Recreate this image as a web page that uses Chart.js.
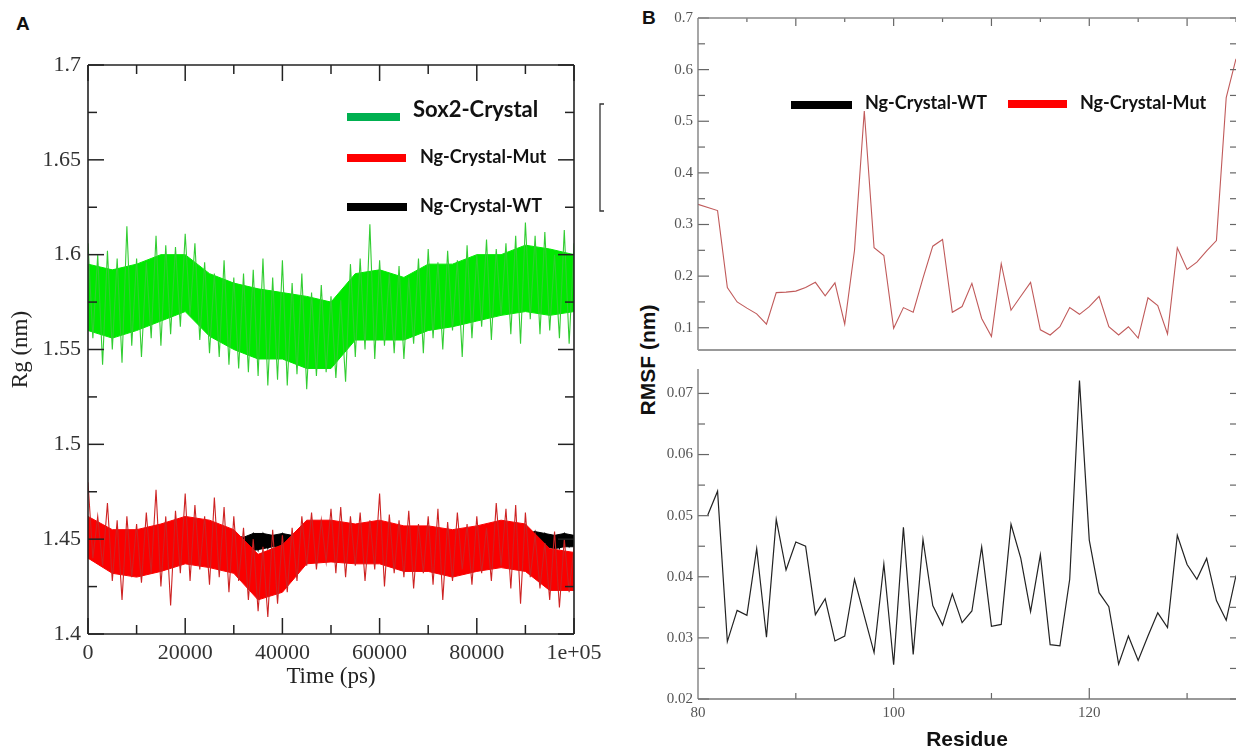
<!DOCTYPE html>
<html>
<head>
<meta charset="utf-8">
<script src="https://cdn.jsdelivr.net/npm/chart.js@4.4.1/dist/chart.umd.min.js"></script>
<style>
  body { margin: 0; width: 1236px; height: 753px; overflow: hidden; position: relative; background: #fff; }
  canvas { position: absolute; }
  #cA { left: 0; top: 0; }
  #cB1 { left: 640px; top: 0; }
  #cB2 { left: 640px; top: 355px; }
  .lbl { position: absolute; font-family: 'Liberation Sans', Arial, sans-serif; font-weight: bold; color: #111; white-space: nowrap; }
</style>
</head>
<body>
<div class="lbl" style="left:16px;top:13px;font-size:19px">A</div>
<div class="lbl" style="left:642px;top:7px;font-size:19px">B</div>
<div class="lbl" style="left:648px;top:360px;font-size:21px;transform:translate(-50%,-50%) rotate(-90deg)">RMSF (nm)</div>
<canvas id="cA" width="640" height="700"></canvas>
<canvas id="cB1" width="596" height="364"></canvas>
<canvas id="cB2" width="596" height="398"></canvas>
<script>
// ---- panel A : Rg vs time ----
// spikes: peaks (even times) and troughs (odd times); core: edges of the dense part of each trace
var tEven = Array.from({length: 51}, (_, i) => i * 2000);
var tOdd = Array.from({length: 50}, (_, i) => i * 2000 + 1000);
var tCore = Array.from({length: 21}, (_, i) => i * 5000);

var greenHigh = [1.606,1.600,1.602,1.598,1.615,1.598,1.596,1.610,1.605,1.604,
  1.611,1.606,1.596,1.590,1.597,1.588,1.590,1.592,1.598,1.588,
  1.597,1.585,1.590,1.580,1.584,1.578,1.576,1.595,1.598,1.616,
  1.597,1.590,1.594,1.588,1.598,1.603,1.596,1.602,1.597,1.605,
  1.600,1.608,1.603,1.606,1.610,1.617,1.610,1.612,1.600,1.613,1.606];
var greenLow = [1.556,1.542,1.550,1.543,1.552,1.546,1.556,1.552,1.558,1.562,
  1.568,1.555,1.548,1.546,1.542,1.540,1.538,1.536,1.531,1.534,
  1.531,1.537,1.529,1.536,1.538,1.535,1.533,1.546,1.550,1.545,
  1.552,1.548,1.545,1.553,1.548,1.556,1.550,1.560,1.546,1.556,
  1.562,1.555,1.568,1.558,1.553,1.566,1.558,1.560,1.556,1.553];
var greenCoreHigh = [1.595,1.592,1.595,1.600,1.600,1.590,1.585,1.582,1.580,1.578,1.575,
  1.590,1.592,1.588,1.595,1.595,1.600,1.600,1.605,1.603,1.600];
var greenCoreLow = [1.560,1.556,1.560,1.565,1.570,1.557,1.550,1.545,1.545,1.540,1.540,
  1.555,1.555,1.555,1.560,1.562,1.565,1.568,1.570,1.568,1.570];

var redHigh = [1.480,1.462,1.469,1.460,1.462,1.458,1.464,1.476,1.462,1.465,
  1.474,1.468,1.462,1.472,1.467,1.462,1.456,1.450,1.446,1.455,
  1.452,1.456,1.462,1.464,1.460,1.466,1.467,1.462,1.464,1.460,
  1.474,1.463,1.460,1.465,1.458,1.462,1.466,1.459,1.464,1.458,
  1.462,1.456,1.469,1.466,1.468,1.464,1.452,1.448,1.454,1.450,1.446];
var redLow = [1.440,1.436,1.428,1.418,1.430,1.427,1.432,1.425,1.415,1.432,
  1.428,1.434,1.426,1.430,1.422,1.428,1.418,1.412,1.409,1.416,
  1.422,1.428,1.436,1.434,1.438,1.432,1.430,1.436,1.428,1.434,
  1.425,1.432,1.430,1.424,1.432,1.426,1.418,1.428,1.434,1.426,
  1.432,1.428,1.436,1.424,1.416,1.430,1.424,1.418,1.414,1.422];
var redCoreHigh = [1.462,1.455,1.455,1.458,1.462,1.460,1.455,1.442,1.447,1.460,1.460,
  1.458,1.460,1.457,1.457,1.455,1.457,1.460,1.458,1.445,1.443];
var redCoreLow = [1.440,1.432,1.430,1.433,1.437,1.435,1.432,1.418,1.422,1.437,1.438,
  1.437,1.437,1.433,1.433,1.430,1.433,1.435,1.433,1.423,1.423];

var blackHigh = [1.452,1.451,1.452,1.453,1.452,1.451,1.452,1.452,1.453,1.451,
  1.452,1.452,1.451,1.453,1.452,1.452,1.451,1.453,1.453,1.452,
  1.453,1.452,1.451,1.452,1.453,1.452,1.451,1.452,1.452,1.451,
  1.453,1.452,1.452,1.451,1.452,1.453,1.452,1.451,1.452,1.452,
  1.453,1.452,1.451,1.452,1.452,1.453,1.454,1.453,1.452,1.453,1.452];
var blackLow = [1.447,1.446,1.447,1.445,1.446,1.447,1.446,1.447,1.445,1.446,
  1.447,1.446,1.447,1.446,1.445,1.447,1.446,1.444,1.445,1.446,
  1.446,1.447,1.446,1.445,1.447,1.446,1.447,1.446,1.445,1.447,
  1.446,1.447,1.446,1.445,1.447,1.446,1.446,1.447,1.445,1.446,
  1.447,1.446,1.445,1.446,1.444,1.445,1.445,1.446,1.445,1.446];

var xTicksA = [0, 20000, 40000, 60000, 80000, 100000];
var xTickLabelsA = ['0', '20000', '40000', '60000', '80000', '1e+05'];
var xMinorA = [10000, 30000, 50000, 70000, 90000];
var yTicksA = [1.4, 1.45, 1.5, 1.55, 1.6, 1.65, 1.7];
var yTickLabelsA = ['1.4', '1.45', '1.5', '1.55', '1.6', '1.65', '1.7'];
var yMinorA = [1.425, 1.475, 1.525, 1.575, 1.625, 1.675];

// ---- panel B : RMSF per residue ----
var mutResidues = [80,82,83,84,85,86,87,88,89,90,91,92,93,94,95,96,97,98,99,100,
  101,102,103,104,105,106,107,108,109,110,111,112,113,114,115,116,117,118,119,120,
  121,122,123,124,125,126,127,128,129,130,131,132,133,134,135];
var mutRmsf = [0.339,0.327,0.178,0.150,0.138,0.127,0.107,0.168,0.169,0.171,0.178,0.188,0.162,0.187,0.107,0.250,0.520,0.255,0.240,0.099,
  0.139,0.130,0.196,0.258,0.271,0.130,0.141,0.186,0.118,0.083,0.224,0.134,0.161,0.188,0.096,0.086,0.102,0.139,0.126,0.141,
  0.161,0.102,0.086,0.102,0.080,0.158,0.143,0.088,0.255,0.213,0.227,0.249,0.269,0.546,0.621];
var wtResidues = [81,82,83,84,85,86,87,88,89,90,91,92,93,94,95,96,98,99,100,
  101,102,103,104,105,106,107,108,109,110,111,112,113,114,115,116,117,118,119,120,
  121,122,123,124,125,126,127,128,129,130,131,132,133,134,135];
var wtRmsf = [0.0501,0.0540,0.0294,0.0345,0.0337,0.0446,0.0301,0.0494,0.0411,0.0457,0.0450,0.0338,0.0364,0.0295,0.0303,0.0396,0.0276,0.0421,0.0256,
  0.0481,0.0273,0.0461,0.0353,0.0321,0.0372,0.0325,0.0344,0.0449,0.0319,0.0322,0.0486,0.0430,0.0343,0.0436,0.0289,0.0287,0.0396,0.0721,0.0460,
  0.0374,0.0351,0.0257,0.0303,0.0263,0.0303,0.0341,0.0317,0.0468,0.0420,0.0396,0.0430,0.0361,0.0329,0.0402];

var yTicksTop = [0.1, 0.2, 0.3, 0.4, 0.5, 0.6, 0.7];
var yMinorTop = [0.15, 0.25, 0.35, 0.45, 0.55, 0.65];
var yTicksBot = [0.02, 0.03, 0.04, 0.05, 0.06, 0.07];
var yMinorBot = [0.025, 0.035, 0.045, 0.055, 0.065];
var xTicksB = [80, 100, 120];
var xMajorB = [90, 100, 110, 120, 130];
var xMinorB = [85, 95, 105, 115, 125, 135];

function pairs(xs, ys) {
  return xs.map(function(x, i) { return {x: x, y: ys[i]}; });
}
function zig(hi, lo) {
  var pts = [];
  hi.forEach(function(v, i) {
    pts.push({x: tEven[i], y: v});
    if (i < lo.length) pts.push({x: tOdd[i], y: lo[i]});
  });
  return pts;
}
// noisy trace = solid core band + spikes between peaks and troughs
function trace(label, hi, lo, coreT, coreHi, coreLo, color, spikeColor) {
  return [
    { label: label, data: zig(hi, lo), borderColor: spikeColor, borderWidth: 1.1 },
    { label: label + ' core', data: pairs(coreT, coreHi), borderColor: color, backgroundColor: color, borderWidth: 1, fill: '+1' },
    { label: label + ' core low', data: pairs(coreT, coreLo), borderColor: color, borderWidth: 1 }
  ];
}

// frame, inward ticks, legends, bracket
var decor = {
  id: 'decor',
  afterDraw: function(chart, args, o) {
    var ctx = chart.ctx, a = chart.chartArea;
    ctx.save();
    (o.ticks || []).forEach(function(t) {
      var sc = chart.scales[t.axis];
      ctx.strokeStyle = t.color; ctx.lineWidth = t.width;
      t.values.forEach(function(v) {
        var p = sc.getPixelForValue(v);
        ctx.beginPath();
        if (t.side === 'bottom') { ctx.moveTo(p, a.bottom); ctx.lineTo(p, a.bottom - t.len); }
        if (t.side === 'top') { ctx.moveTo(p, a.top); ctx.lineTo(p, a.top + t.len); }
        if (t.side === 'left') { ctx.moveTo(a.left, p); ctx.lineTo(a.left + t.len, p); }
        if (t.side === 'right') { ctx.moveTo(a.right, p); ctx.lineTo(a.right - t.len, p); }
        ctx.stroke();
      });
    });
    (o.frame || []).forEach(function(f) {
      ctx.strokeStyle = f.color; ctx.lineWidth = f.width;
      ctx.beginPath();
      if (f.side === 'left') { ctx.moveTo(a.left, a.top); ctx.lineTo(a.left, a.bottom); }
      if (f.side === 'right') { ctx.moveTo(a.right, a.top); ctx.lineTo(a.right, a.bottom); }
      if (f.side === 'top') { ctx.moveTo(a.left, a.top); ctx.lineTo(a.right, a.top); }
      if (f.side === 'bottom') { ctx.moveTo(a.left, a.bottom); ctx.lineTo(a.right, a.bottom); }
      ctx.stroke();
    });
    (o.legend || []).forEach(function(it) {
      ctx.fillStyle = it.swatch;
      ctx.fillRect(it.x0, it.y - it.h / 2, it.x1 - it.x0, it.h);
      ctx.fillStyle = '#111';
      ctx.font = it.font;
      ctx.textBaseline = 'middle';
      ctx.textAlign = 'left';
      ctx.fillText(it.text, it.tx, it.ty);
    });
    if (o.bracket) {
      var b = o.bracket;
      ctx.strokeStyle = '#333'; ctx.lineWidth = 1.3;
      ctx.beginPath();
      ctx.moveTo(b.x + b.hook, b.y0); ctx.lineTo(b.x, b.y0);
      ctx.lineTo(b.x, b.y1); ctx.lineTo(b.x + b.hook, b.y1);
      ctx.stroke();
    }
    ctx.restore();
  }
};

var serifA = {family: "'Liberation Serif', 'Times New Roman', serif", size: 22};
var serifB = {family: "'Liberation Serif', 'Times New Roman', serif", size: 15};
var legFont = "bold 18px Lato, 'Open Sans', sans-serif";

var chartA = new Chart(document.getElementById('cA'), {
  type: 'line',
  data: {
    datasets: [].concat(
      trace('Ng-Crystal-Mut', redHigh, redLow, tCore, redCoreHigh, redCoreLow, 'rgb(250,0,0)', 'rgb(205,35,35)'),
      trace('Ng-Crystal-WT', blackHigh, blackLow, tEven, blackHigh, blackLow.concat([1.446]), '#000', '#000'),
      trace('Sox2-Crystal', greenHigh, greenLow, tCore, greenCoreHigh, greenCoreLow, 'rgb(0,232,0)', 'rgb(50,205,50)')
    )
  },
  options: {
    responsive: false,
    animation: false,
    events: [],
    elements: { point: { radius: 0 }, line: { tension: 0 } },
    layout: { padding: { left: 0, right: 66, top: 65, bottom: 0 } },
    scales: {
      x: {
        type: 'linear', min: 0, max: 100000,
        afterFit: function(s) { s.height = 66; },
        afterBuildTicks: function(s) { s.ticks = xTicksA.map(function(v) { return {value: v}; }); },
        grid: { display: false, drawTicks: false },
        border: { display: false },
        ticks: { font: serifA, color: '#333', padding: 6, maxRotation: 0,
          callback: function(v) { return xTickLabelsA[xTicksA.indexOf(v)]; } },
        title: { display: true, text: 'Time (ps)', font: {family: serifA.family, size: 23}, color: '#222', padding: {top: 0, bottom: 9} }
      },
      y: {
        min: 1.4, max: 1.7,
        afterFit: function(s) { s.width = 88; },
        afterBuildTicks: function(s) { s.ticks = yTicksA.map(function(v) { return {value: v}; }); },
        grid: { display: false, drawTicks: false },
        border: { display: false },
        ticks: { font: serifA, color: '#333', padding: 7,
          callback: function(v) { return yTickLabelsA[yTicksA.findIndex(function(t) { return Math.abs(t - v) < 1e-9; })]; } },
        title: { display: true, text: 'Rg (nm)', font: {family: serifA.family, size: 23}, color: '#222', padding: {top: 7, bottom: 0} }
      }
    },
    plugins: {
      legend: { display: false },
      tooltip: { enabled: false },
      decor: {
        ticks: [
          { axis: 'x', side: 'bottom', values: xTicksA, len: 16, color: '#222', width: 1.5 },
          { axis: 'x', side: 'top', values: xTicksA, len: 16, color: '#222', width: 1.5 },
          { axis: 'x', side: 'bottom', values: xMinorA, len: 9, color: '#222', width: 1.5 },
          { axis: 'x', side: 'top', values: xMinorA, len: 9, color: '#222', width: 1.5 },
          { axis: 'y', side: 'left', values: yTicksA, len: 16, color: '#222', width: 1.5 },
          { axis: 'y', side: 'right', values: yTicksA, len: 16, color: '#222', width: 1.5 },
          { axis: 'y', side: 'left', values: yMinorA, len: 9, color: '#222', width: 1.5 },
          { axis: 'y', side: 'right', values: yMinorA, len: 9, color: '#222', width: 1.5 }
        ],
        frame: ['left', 'right', 'top', 'bottom'].map(function(s) { return {side: s, color: '#222', width: 1.6}; }),
        legend: [
          { text: 'Sox2-Crystal', swatch: 'rgb(0,176,80)', x0: 347, x1: 400, y: 117, h: 8, tx: 413, ty: 110, font: "bold 22px Lato, 'Open Sans', sans-serif" },
          { text: 'Ng-Crystal-Mut', swatch: 'rgb(255,0,0)', x0: 347, x1: 406, y: 158, h: 8, tx: 420, ty: 157, font: legFont },
          { text: 'Ng-Crystal-WT', swatch: '#000', x0: 347, x1: 407, y: 207, h: 8, tx: 420, ty: 206, font: legFont }
        ],
        bracket: { x: 600, y0: 104, y1: 211, hook: 4 }
      }
    }
  },
  plugins: [decor]
});

var chartB1 = new Chart(document.getElementById('cB1'), {
  type: 'line',
  data: { datasets: [
    { label: 'Ng-Crystal-Mut', data: pairs(mutResidues, mutRmsf), borderColor: 'rgb(192,90,90)', borderWidth: 1.1 }
  ] },
  options: {
    responsive: false, animation: false, events: [],
    elements: { point: { radius: 0 }, line: { tension: 0 } },
    layout: { padding: { left: 0, right: 0, top: 18, bottom: 3 } },
    scales: {
      x: { type: 'linear', min: 80, max: 135, display: false },
      y: {
        min: 0.0569, max: 0.7,
        afterFit: function(s) { s.width = 58; },
        afterBuildTicks: function(s) { s.ticks = yTicksTop.map(function(v) { return {value: v}; }); },
        grid: { display: false, drawTicks: false },
        border: { display: false },
        ticks: { font: serifB, color: '#555', padding: 5, callback: function(v) { return v.toFixed(1); } }
      }
    },
    plugins: {
      legend: { display: false }, tooltip: { enabled: false },
      decor: {
        ticks: [
          { axis: 'x', side: 'top', values: xMajorB, len: 8, color: '#666', width: 1.2 },
          { axis: 'x', side: 'top', values: xMinorB, len: 4, color: '#666', width: 1.2 },
          { axis: 'y', side: 'left', values: yTicksTop, len: 11, color: '#666', width: 1.2 },
          { axis: 'y', side: 'left', values: yMinorTop, len: 7, color: '#666', width: 1.2 },
          { axis: 'y', side: 'right', values: yTicksTop, len: 6, color: '#666', width: 1.2 },
          { axis: 'y', side: 'right', values: yMinorTop, len: 6, color: '#666', width: 1.2 }
        ],
        frame: [
          { side: 'left', color: '#777', width: 1.3 },
          { side: 'top', color: '#888', width: 1.3 },
          { side: 'bottom', color: '#999', width: 2 }
        ],
        legend: [
          { text: 'Ng-Crystal-WT', swatch: '#000', x0: 151, x1: 212, y: 105, h: 8, tx: 225, ty: 103, font: legFont },
          { text: 'Ng-Crystal-Mut', swatch: 'rgb(255,0,0)', x0: 368, x1: 427, y: 104, h: 8, tx: 440, ty: 103, font: legFont }
        ]
      }
    }
  },
  plugins: [decor]
});

var chartB2 = new Chart(document.getElementById('cB2'), {
  type: 'line',
  data: { datasets: [
    { label: 'Ng-Crystal-WT', data: pairs(wtResidues, wtRmsf), borderColor: '#222', borderWidth: 1.2 }
  ] },
  options: {
    responsive: false, animation: false, events: [],
    elements: { point: { radius: 0 }, line: { tension: 0 } },
    layout: { padding: { left: 0, right: 0, top: 6, bottom: 0 } },
    scales: {
      x: {
        type: 'linear', min: 80, max: 135,
        afterFit: function(s) { s.height = 54; },
        afterBuildTicks: function(s) { s.ticks = xTicksB.map(function(v) { return {value: v}; }); },
        grid: { display: false, drawTicks: false },
        border: { display: false },
        ticks: { font: serifB, color: '#555', padding: 5, maxRotation: 0 },
        title: { display: true, text: 'Residue', font: {family: "'Liberation Sans', Arial, sans-serif", size: 21, weight: 'bold'}, color: '#111', padding: {top: 0, bottom: 0} }
      },
      y: {
        min: 0.02, max: 0.074,
        afterFit: function(s) { s.width = 58; },
        afterBuildTicks: function(s) { s.ticks = yTicksBot.map(function(v) { return {value: v}; }); },
        grid: { display: false, drawTicks: false },
        border: { display: false },
        ticks: { font: serifB, color: '#555', padding: 5, callback: function(v) { return v.toFixed(2); } }
      }
    },
    plugins: {
      legend: { display: false }, tooltip: { enabled: false },
      decor: {
        ticks: [
          { axis: 'x', side: 'bottom', values: [100, 120], len: 11, color: '#666', width: 1.2 },
          { axis: 'x', side: 'bottom', values: [90, 110, 130], len: 6, color: '#666', width: 1.2 },
          { axis: 'y', side: 'left', values: yTicksBot, len: 11, color: '#666', width: 1.2 },
          { axis: 'y', side: 'left', values: yMinorBot, len: 7, color: '#666', width: 1.2 },
          { axis: 'y', side: 'right', values: yTicksBot, len: 6, color: '#666', width: 1.2 },
          { axis: 'y', side: 'right', values: yMinorBot, len: 6, color: '#666', width: 1.2 }
        ],
        frame: [
          { side: 'left', color: '#777', width: 1.3 },
          { side: 'bottom', color: '#777', width: 1.3 }
        ]
      }
    }
  },
  plugins: [decor]
});
</script>
</body>
</html>
